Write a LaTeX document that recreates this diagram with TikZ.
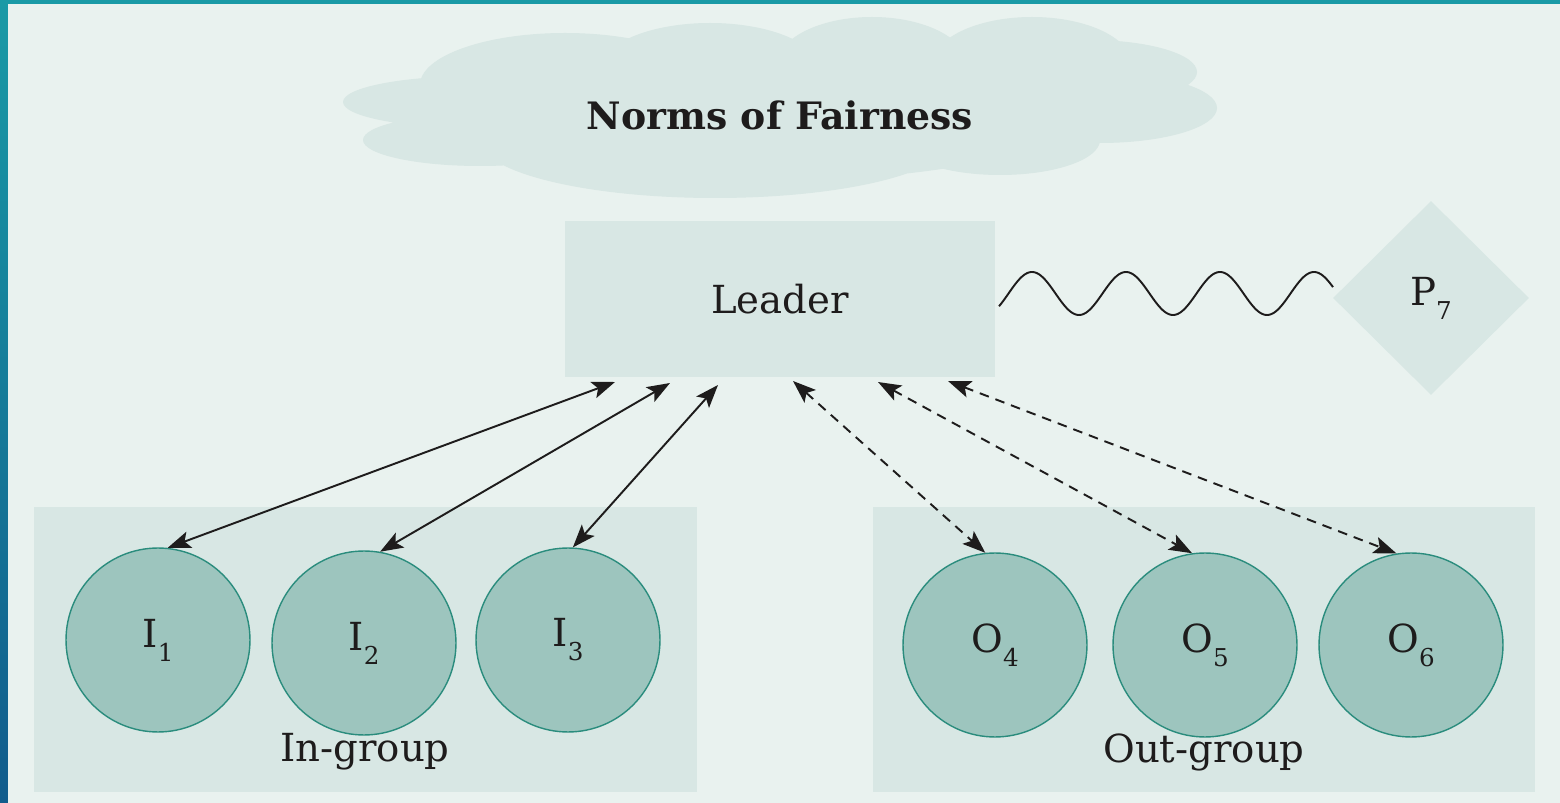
\documentclass[tikz,border=0pt]{standalone}
\usepackage{fontspec}
\setmainfont{DejaVu Serif}
\usetikzlibrary{arrows.meta,shapes.geometric}
\definecolor{panel}{RGB}{233,242,239}
\definecolor{boxfill}{RGB}{216,231,228}
\definecolor{circfill}{RGB}{157,197,190}
\definecolor{circline}{RGB}{42,140,125}
\definecolor{frameA}{RGB}{26,154,166}
\definecolor{frameB}{RGB}{18,92,140}
\definecolor{ink}{RGB}{30,28,28}
\newcommand{\subs}[1]{\raisebox{-8pt}{\fontsize{14}{14}\selectfont #1}}
\begin{document}
\begin{tikzpicture}[x=0.02cm,y=-0.02cm,
  lbl/.style={font=\fontsize{22}{26}\selectfont, text=ink},
  shapebox/.style={rectangle, fill=boxfill, inner sep=0pt},
  member/.style={circle, fill=circfill, draw=circline, line width=0.8pt,
    minimum size=3.68cm, inner sep=0pt, lbl},
  link/.style={draw=ink, line width=1.1pt,
    {Stealth[length=0.46cm,width=0.34cm,inset=0.1cm]}-{Stealth[length=0.46cm,width=0.34cm,inset=0.1cm]}},
  dlink/.style={link, dash pattern=on 5.5pt off 4pt},
  wave/.style={draw=ink, line width=1.1pt, line join=round}
]
\useasboundingbox (0,0) rectangle (1560,803);
% frame and panel
\shade[top color=frameA, bottom color=frameB] (0,0) rectangle (1560,803);
\fill[panel] (8,4) rectangle (1560,803);
% cloud
\fill[boxfill]
  (475,102) ellipse [x radius=132, y radius=26]
  (480,140) ellipse [x radius=117, y radius=26]
  (565,85) ellipse [x radius=145, y radius=52]
  (710,70) ellipse [x radius=110, y radius=47]
  (872,65) ellipse [x radius=95, y radius=48]
  (1032,65) ellipse [x radius=100, y radius=48]
  (1090,72) ellipse [x radius=107, y radius=32]
  (1100,108) ellipse [x radius=117, y radius=35]
  (1000,140) ellipse [x radius=100, y radius=35]
  (715,140) ellipse [x radius=235, y radius=58]
  (780,110) ellipse [x radius=300, y radius=70];
\node[lbl, font=\fontsize{21.5}{26}\selectfont\bfseries] (norms) at (780,115) {Norms of Fairness};
% leader and P7
\node[shapebox, minimum width=8.6cm, minimum height=3.14cm, lbl] (leader) at (780,299) {Leader};
\node[diamond, fill=boxfill, inner sep=0pt, minimum width=3.92cm, minimum height=3.88cm, lbl] (p7) at (1431,298) {P\subs{7}};
% wavy connector between leader.east and p7.west
\draw[wave] plot[domain=999:1333, samples=240, smooth] (\x, {293.5 - 21.5*cos((\x-1032)*3.8298)});
% groups
\node[shapebox, minimum width=13.26cm, minimum height=5.7cm] (ingroup) at (365.5,649.5) {};
\node[shapebox, minimum width=13.24cm, minimum height=5.7cm] (outgroup) at (1204,649.5) {};
\node[lbl] (inlbl) at (365,752) {In-group};
\node[lbl] (outlbl) at (1204,752) {Out-group};
% members
\node[member] (i1) at (158,640) {I\subs{1}};
\node[member] (i2) at (364,643) {I\subs{2}};
\node[member] (i3) at (568,640) {I\subs{3}};
\node[member] (o4) at (995,645) {O\subs{4}};
\node[member] (o5) at (1205,645) {O\subs{5}};
\node[member] (o6) at (1411,645) {O\subs{6}};
% arrows
\coordinate (a1) at (615,382);
\coordinate (a2) at (670,383);
\coordinate (a3) at (718,385);
\coordinate (b1) at (793,381);
\coordinate (b2) at (878,382);
\coordinate (b3) at (948,381);
\draw[link] (a1) -- (i1.84);
\draw[link] (a2) -- (i2.80);
\draw[link] (a3) -- (i3.87);
\draw[dlink] (b1) -- (o4.96);
\draw[dlink] (b2) -- (o5.98);
\draw[dlink] (b3) -- (o6.99);
\end{tikzpicture}
\end{document}
